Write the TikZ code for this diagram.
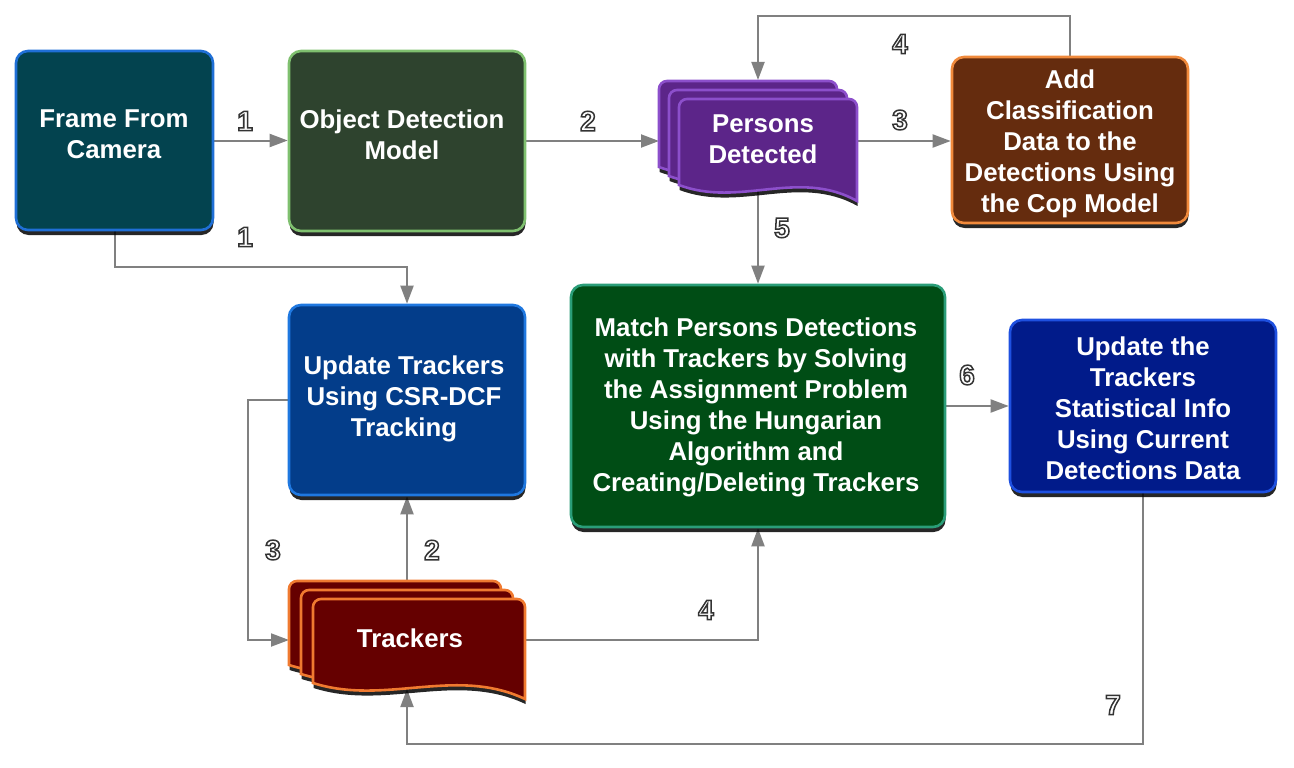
\documentclass[tikz,border=0pt]{standalone}
\usepackage{fontspec}
\setmainfont{Liberation Sans}
\usetikzlibrary{arrows.meta,calc,shadows}
\pgfdeclarelayer{bg}
\pgfsetlayers{bg,main}
\definecolor{cgray}{HTML}{808080}
\definecolor{fFrame}{HTML}{03434F}
\definecolor{bFrame}{HTML}{1F6FD6}
\definecolor{fObj}{HTML}{2E432E}
\definecolor{bObj}{HTML}{7FC06F}
\definecolor{fPer}{HTML}{5C2589}
\definecolor{bPer}{HTML}{8C4FCB}
\definecolor{fAdd}{HTML}{652C0E}
\definecolor{bAdd}{HTML}{F08A3C}
\definecolor{fUpd}{HTML}{033D8A}
\definecolor{bUpd}{HTML}{1F78E0}
\definecolor{fMat}{HTML}{004D15}
\definecolor{bMat}{HTML}{2A9D78}
\definecolor{fSta}{HTML}{011B8A}
\definecolor{bSta}{HTML}{1E50E0}
\definecolor{fTrk}{HTML}{650000}
\definecolor{bTrk}{HTML}{F07A30}
\tikzset{
  x=1pt, y=-1pt,
  shad/.style={drop shadow={shadow xshift=0.5pt, shadow yshift=-5pt, opacity=0.85, fill=black}},
  box/.style={draw, line width=2.6pt, rounded corners=12pt, inner sep=0pt, shad},
  doc/.style={line width=2.6pt, shad},
  dtext/.style={text=white, align=center, font=\bfseries\fontsize{25.8}{31}\selectfont, inner sep=0pt},
  area/.style={inner sep=0pt, outer sep=0pt},
  conn/.style={draw=cgray, line width=2pt, -{Triangle[length=18pt,width=13pt]}},
  numf/.style={inner sep=0pt, text=white, font=\bfseries\fontsize{28}{28}\selectfont}
}
% document shape: x0, y0 (top), w, h (height at right end)
\newcommand\docshape[5]{%
  \path[doc, #5] (#1,{#2+#4-16}) [rounded corners=8pt] -- (#1,#2) -- ({#1+#3},#2)
    [rounded corners=0pt] -- ({#1+#3},{#2+#4})
    .. controls ({#1+0.67*#3},{#2+#4-33}) and ({#1+0.34*#3},{#2+#4+7}) .. (#1,{#2+#4-16}) -- cycle;
}
\newcommand\outlined[1]{\special{pdf:literal direct 2 Tr 1.5 w 0.2 0.2 0.2 RG}#1\special{pdf:literal direct 0 Tr}}
\newcommand\numlab[3]{%
  \node[numf] (#1) at (#2) {\outlined{#3}};
}
\begin{document}
\begin{tikzpicture}
\useasboundingbox (0,0) rectangle (1294,768);

% boxes
\node[box, fill=fFrame, draw=bFrame, minimum width=197pt, minimum height=179pt] (frame) at (114.5,140.5) {};
\node[dtext] (framet) at (114,134.5) {Frame From\\Camera};
\node[box, fill=fObj, draw=bObj, minimum width=236pt, minimum height=180pt] (obj) at (407,141) {};
\node[dtext] (objt) at (402,135) {Object Detection\\Model};
\node[box, fill=fAdd, draw=bAdd, minimum width=236pt, minimum height=166pt] (add) at (1070,140) {};
\node[dtext] (addt) at (1070,144) {Add\\Classification\\Data to the\\Detections Using\\the Cop Model};
\node[box, fill=fUpd, draw=bUpd, minimum width=236pt, minimum height=190pt] (upd) at (407,400) {};
\node[dtext] (updt) at (404,399) {Update Trackers\\Using CSR-DCF\\Tracking};
\node[box, fill=fMat, draw=bMat, minimum width=374pt, minimum height=242pt] (match) at (758,406) {};
\node[dtext] (matcht) at (756,407) {Match Persons Detections\\with Trackers by Solving\\the Assignment Problem\\Using the Hungarian\\Algorithm and\\Creating/Deleting Trackers};
\node[box, fill=fSta, draw=bSta, minimum width=266pt, minimum height=172pt] (stats) at (1143,406) {};
\node[dtext] (statst) at (1143,408.5) {Update the\\Trackers\\Statistical Info\\Using Current\\Detections Data};

% persons detected (multi-document)
\docshape{659}{81}{178}{102}{fill=fPer, draw=bPer}
\docshape{669}{90}{178}{102}{fill=fPer, draw=bPer}
\docshape{679}{99}{178}{102}{fill=fPer, draw=bPer}
\node[area, minimum width=198pt, minimum height=125pt] (pd) at (758,142.5) {};
\node[dtext] (pdt) at (763,139) {Persons\\Detected};

% trackers (multi-document)
\docshape{289}{581}{212}{100}{fill=fTrk, draw=bTrk}
\docshape{301}{590}{212}{100}{fill=fTrk, draw=bTrk}
\docshape{313}{599}{212}{100}{fill=fTrk, draw=bTrk}
\node[area, minimum width=236pt, minimum height=120pt] (tr) at (407,640) {};
\node[dtext] (trt) at (410,638) {Trackers};

\coordinate (ytop) at (0,16);
\coordinate (y267) at (0,267);
\coordinate (c7) at (407,744);
\coordinate (trb) at (407,689);

\begin{pgfonlayer}{bg}
\draw[conn] (frame.east) -- (frame.east -| obj.west);
\draw[conn] (frame.south) |- (upd.north |- y267) -- (upd.north);
\draw[conn] (obj.east) -- (obj.east -| pd.west);
\draw[conn] (obj.east -| pd.east) -- (obj.east -| add.west);
\draw[conn] (add.north) |- (pd.north |- ytop) -- (pd.north);
\draw[conn] ([yshift=20pt]pd.south) -- (match.north);
\draw[conn] (match.east) -- (match.east -| stats.west);
\draw[conn] (stats.south) |- (c7) -- (trb);
\draw[conn] (tr.north) -- (upd.south);
\draw[conn] (upd.west) -- ++(-40,0) |- (tr.west);
\draw[conn] (tr.east) -| (match.south);
\end{pgfonlayer}

% step numbers
\numlab{n1a}{245,121}{1}
\numlab{n1b}{245,237}{1}
\numlab{n2a}{588,121}{2}
\numlab{n3a}{900,120}{3}
\numlab{n4a}{900,44}{4}
\numlab{n5}{782,228}{5}
\numlab{n6}{967,375}{6}
\numlab{n7}{1113,705}{7}
\numlab{n2b}{432,550}{2}
\numlab{n3b}{273,550}{3}
\numlab{n4b}{706,610}{4}
\end{tikzpicture}
\end{document}
